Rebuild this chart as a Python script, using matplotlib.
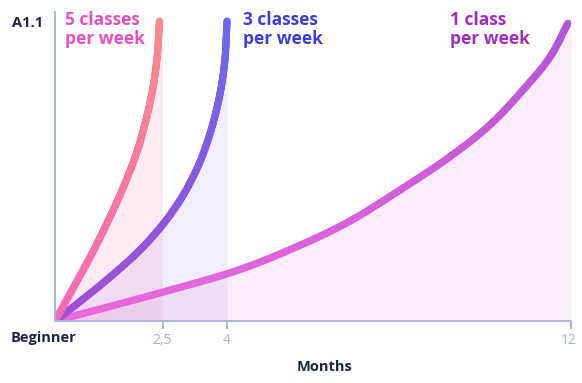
import numpy as np
import matplotlib
matplotlib.use("Agg")
import matplotlib.pyplot as plt
from matplotlib.collections import LineCollection
from matplotlib.colors import LinearSegmentedColormap
from matplotlib.transforms import ScaledTranslation

# ---- data ----
months_5 = [0, 0.35, 0.7, 1.0, 1.3, 1.6, 1.91, 2.09, 2.26, 2.37, 2.43]
level_5 = [0, 0.09, 0.18, 0.262, 0.35, 0.445, 0.56, 0.65, 0.755, 0.865, 0.99]

months_3 = [0, 0.65, 1.28, 1.91, 2.37, 2.7, 3.02, 3.37, 3.65, 3.84, 3.95, 4.0]
level_3 = [0, 0.072, 0.145, 0.225, 0.295, 0.355, 0.425, 0.525, 0.64, 0.752, 0.861, 0.99]

months_1 = [0, 2.5, 4.3, 5.7, 6.86, 8.02, 9.19, 10.12, 10.88, 11.51, 11.93]
level_1 = [0, 0.095, 0.17, 0.25, 0.33, 0.432, 0.543, 0.648, 0.762, 0.871, 0.983]

course_end = [2.5, 4, 12]
tick_labels = ["2,5", "4", "12"]
series_labels = ["5 classes\nper week", "3 classes\nper week", "1 class\nper week"]

# ---- figure geometry ----
W, H = 582, 383
AX_L, AX_B, AX_W, AX_H = 55, 62, 516, 309
XMAX, YMAX = 12, 1.02
SX, SY = AX_W / XMAX, AX_H / YMAX  # pixels per data unit (for smooth rendering)


def smooth_path(xs, ys, n=30):
    """Centripetal Catmull-Rom rendering through the given points (in pixel space)."""
    P = np.column_stack([np.asarray(xs) * SX, np.asarray(ys) * SY]).astype(float)
    P = np.vstack([2 * P[0] - P[1], P, 2 * P[-1] - P[-2]])
    out = []
    for i in range(1, len(P) - 2):
        p0, p1, p2, p3 = P[i - 1], P[i], P[i + 1], P[i + 2]

        def tj(ti, a, b):
            return ti + max(np.hypot(*(b - a)), 1e-9) ** 0.5
        t0 = 0.0
        t1 = tj(t0, p0, p1)
        t2 = tj(t1, p1, p2)
        t3 = tj(t2, p2, p3)
        t = np.linspace(t1, t2, n, endpoint=False)[:, None]
        A1 = (t1 - t) / (t1 - t0) * p0 + (t - t0) / (t1 - t0) * p1
        A2 = (t2 - t) / (t2 - t1) * p1 + (t - t1) / (t2 - t1) * p2
        A3 = (t3 - t) / (t3 - t2) * p2 + (t - t2) / (t3 - t2) * p3
        B1 = (t2 - t) / (t2 - t0) * A1 + (t - t0) / (t2 - t0) * A2
        B2 = (t3 - t) / (t3 - t1) * A2 + (t - t1) / (t3 - t1) * A3
        C = (t2 - t) / (t2 - t1) * B1 + (t - t1) / (t2 - t1) * B2
        out.append(C)
    out.append(P[-2][None, :])
    C = np.vstack(out)
    return np.column_stack([C[:, 0] / SX, C[:, 1] / SY])


fig = plt.figure(figsize=(W / 100, H / 100), dpi=100)
ax = fig.add_axes([AX_L / W, AX_B / H, AX_W / W, AX_H / H])
ax.set_xlim(0, XMAX)
ax.set_ylim(0, YMAX)

axis_col = "#aab5dc"
dark = "#1b2542"
font = "Open Sans"

series = [
    (months_5, level_5, course_end[0], "#f07fb0", 0.16, ("#f06ab6", "#f98c88"), "#e052bf", 65),
    (months_3, level_3, course_end[1], "#7b6cf0", 0.11, ("#a04ed2", "#6c68ec"), "#3c3fcf", 243),
    (months_1, level_1, course_end[2], "#e070e0", 0.13, ("#ea68dc", "#b255d4"), "#9a2fb8", 450),
]

for mx, lv, end, fcol, alpha, _, _, _ in series[::-1]:
    curve = smooth_path(mx, lv)
    fx = np.append(curve[:, 0], end)
    fy = np.append(curve[:, 1], curve[-1, 1])
    ax.fill_between(fx, fy, 0, color=fcol, alpha=alpha, lw=0, zorder=1)

for idx, (mx, lv, end, fcol, alpha, (c0, c1), tcol, tx) in enumerate(series[::-1]):
    cmap = LinearSegmentedColormap.from_list("g%d" % idx, [c0, c1])
    curve = smooth_path(mx, lv)
    pts = curve.reshape(-1, 1, 2)
    segs = np.concatenate([pts[:-1], pts[1:]], axis=1)
    vals = curve[:-1, 1] / max(lv)
    lc = LineCollection(segs, cmap=cmap, linewidths=5.2, capstyle="round",
                        joinstyle="round", zorder=3 + idx)
    lc.set_array(vals)
    lc.set_clim(0, 1)
    ax.add_collection(lc)

for (mx, lv, end, fcol, alpha, _, tcol, tx), lab in zip(series, series_labels):
    fig.text(tx / W, 1 - 11 / H, lab, color=tcol, fontsize=12.5, fontweight="bold",
             family=font, ha="left", va="top", linespacing=1.05)

for s in ["top", "right"]:
    ax.spines[s].set_visible(False)
for s in ["left", "bottom"]:
    ax.spines[s].set_color(axis_col)
    ax.spines[s].set_linewidth(1.4)
    ax.spines[s].set_zorder(10)

ax.set_yticks([])
ax.set_xticks(course_end)
ax.set_xticklabels(tick_labels, family=font, fontsize=10, color="#a3aed6")
ax.tick_params(axis="x", length=6, width=1.4, color=axis_col, pad=3)
lab12 = ax.get_xticklabels()[-1]
lab12.set_horizontalalignment("right")
lab12.set_transform(lab12.get_transform() + ScaledTranslation(6 / 100, 0, fig.dpi_scale_trans))
ax.patch.set_alpha(0)

fig.text(12 / W, 1 - 23 / H, "A1.1", color=dark, fontsize=10.5, fontweight="bold",
         family=font, ha="left", va="center")
fig.text(11 / W, 1 - 338 / H, "Beginner", color=dark, fontsize=10.5, fontweight="bold",
         family=font, ha="left", va="center")
fig.text(325 / W, 1 - 367 / H, "Months", color=dark, fontsize=10.5, fontweight="bold",
         family=font, ha="center", va="center")

fig.savefig("out.png", dpi=100)
